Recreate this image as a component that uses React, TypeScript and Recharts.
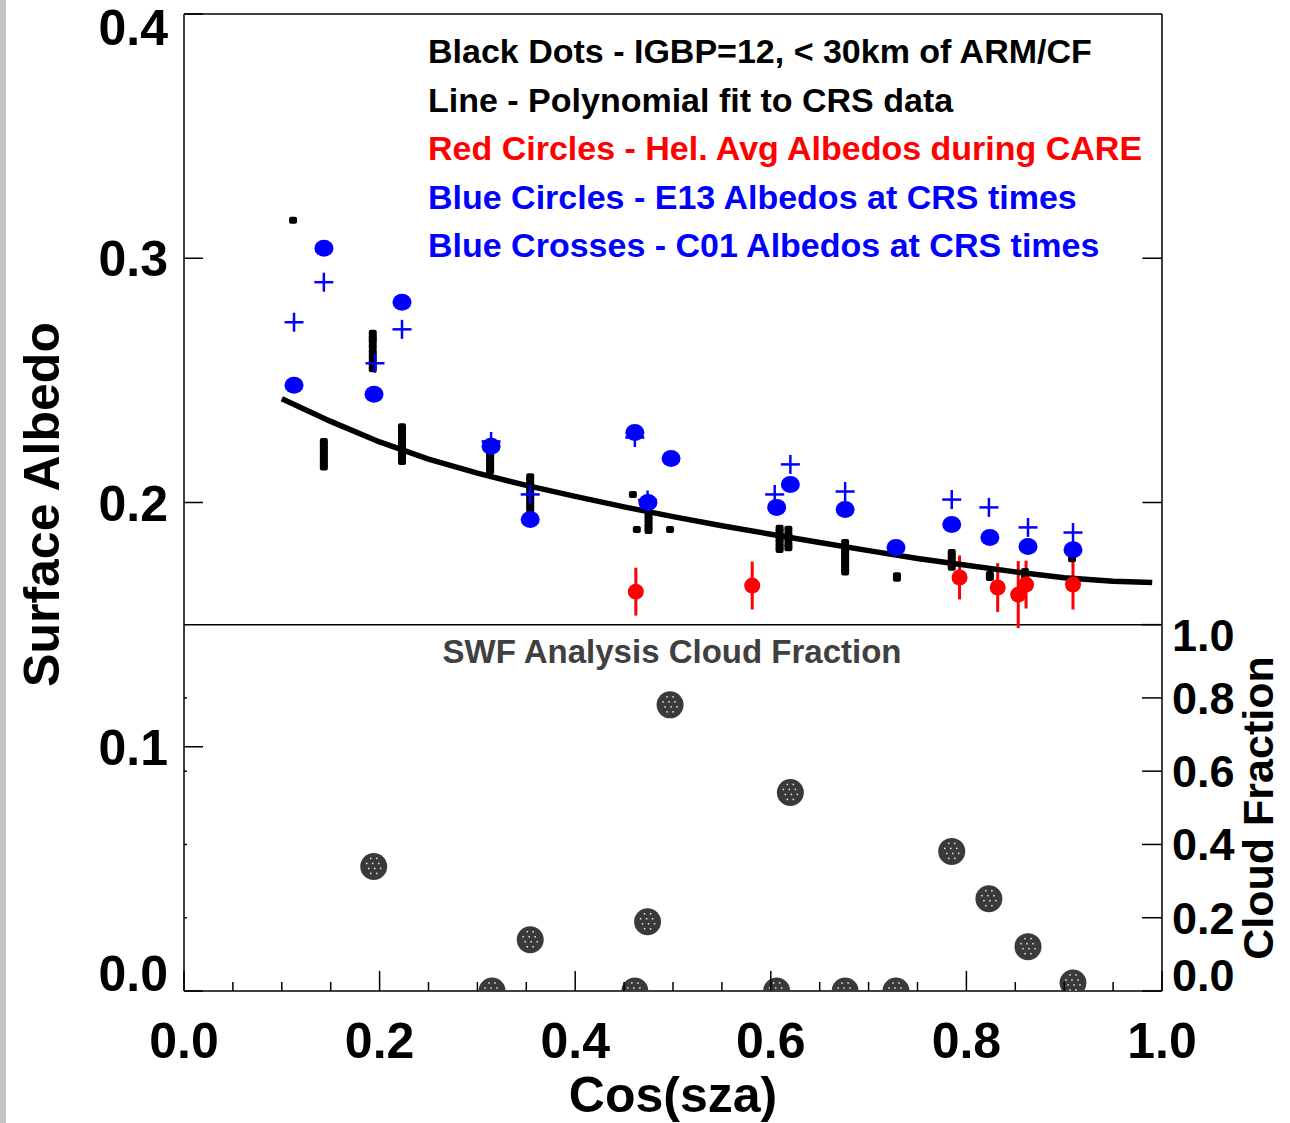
import React from 'react';
import { ComposedChart, Scatter, XAxis, YAxis, ReferenceLine, ErrorBar, Customized } from 'recharts';

const FONT = "'Liberation Sans', Arial, Helvetica, sans-serif";

// ---- tick values ----
const xTicks = [0, 0.05, 0.1, 0.15, 0.2, 0.25, 0.3, 0.35, 0.4, 0.45, 0.5, 0.55, 0.6, 0.65, 0.7, 0.75, 0.8, 0.85, 0.9, 0.95, 1.0];
const xMajorTicks = [0, 0.2, 0.4, 0.6, 0.8, 1.0];
const albedoTicks = [0, 0.1, 0.2, 0.3, 0.4];
const albedoRightTicks = [0.2, 0.3];
const cloudTicks = [0, 0.2, 0.4, 0.6, 0.8, 1.0];
const cloudInnerTicks = [0.2, 0.4, 0.6, 0.8];
const ALBEDO_MAX = 0.4;
const PANEL_SPLIT = 0.15; // albedo value where the cloud-fraction panel (0..1) ends
const CLOUD_AXIS_MAX = ALBEDO_MAX / PANEL_SPLIT;

// ---- annotation texts ----
const legendLines = [
  { text: 'Black Dots - IGBP=12, < 30km of ARM/CF', color: '#000000' },
  { text: 'Line - Polynomial fit to CRS data', color: '#000000' },
  { text: 'Red Circles - Hel. Avg Albedos during CARE', color: '#ff0000' },
  { text: 'Blue Circles - E13 Albedos at CRS times', color: '#0000ff' },
  { text: 'Blue Crosses - C01 Albedos at CRS times', color: '#0000ff' },
];
const cloudTitle = 'SWF Analysis Cloud Fraction';

// ---- data ----
const blackDots = [
  { x: 0.1115, y: 0.3156 },
  { x: 0.143, y: 0.2250 }, { x: 0.143, y: 0.2235 }, { x: 0.143, y: 0.2220 }, { x: 0.143, y: 0.2205 },
  { x: 0.143, y: 0.2190 }, { x: 0.143, y: 0.2175 }, { x: 0.143, y: 0.2160 }, { x: 0.143, y: 0.2145 },
  { x: 0.193, y: 0.2693 }, { x: 0.193, y: 0.2675 }, { x: 0.193, y: 0.2660 }, { x: 0.193, y: 0.2640 },
  { x: 0.193, y: 0.2618 }, { x: 0.193, y: 0.2600 }, { x: 0.193, y: 0.2582 }, { x: 0.193, y: 0.2565 }, { x: 0.193, y: 0.2548 },
  { x: 0.2229, y: 0.2310 }, { x: 0.2229, y: 0.2295 }, { x: 0.2229, y: 0.2280 }, { x: 0.2229, y: 0.2262 },
  { x: 0.2229, y: 0.2245 }, { x: 0.2229, y: 0.2230 }, { x: 0.2229, y: 0.2212 }, { x: 0.2229, y: 0.2195 },
  { x: 0.2229, y: 0.2180 }, { x: 0.2229, y: 0.2168 },
  { x: 0.313, y: 0.2205 }, { x: 0.313, y: 0.2190 }, { x: 0.313, y: 0.2175 }, { x: 0.313, y: 0.2160 },
  { x: 0.313, y: 0.2145 }, { x: 0.313, y: 0.2130 },
  { x: 0.354, y: 0.2105 }, { x: 0.354, y: 0.2090 }, { x: 0.354, y: 0.2075 }, { x: 0.354, y: 0.2060 },
  { x: 0.354, y: 0.2045 }, { x: 0.354, y: 0.2030 }, { x: 0.354, y: 0.2015 }, { x: 0.354, y: 0.2000 },
  { x: 0.354, y: 0.1985 }, { x: 0.354, y: 0.1972 },
  { x: 0.459, y: 0.2033 }, { x: 0.463, y: 0.1889 },
  { x: 0.475, y: 0.1945 }, { x: 0.475, y: 0.1930 }, { x: 0.475, y: 0.1915 }, { x: 0.475, y: 0.1900 }, { x: 0.475, y: 0.1885 },
  { x: 0.497, y: 0.1889 },
  { x: 0.609, y: 0.1895 }, { x: 0.609, y: 0.1880 }, { x: 0.609, y: 0.1865 }, { x: 0.609, y: 0.1850 },
  { x: 0.609, y: 0.1835 }, { x: 0.609, y: 0.1820 }, { x: 0.609, y: 0.1808 },
  { x: 0.618, y: 0.1890 }, { x: 0.618, y: 0.1870 }, { x: 0.618, y: 0.1850 }, { x: 0.618, y: 0.1830 }, { x: 0.618, y: 0.1815 },
  { x: 0.676, y: 0.1836 }, { x: 0.676, y: 0.1820 }, { x: 0.676, y: 0.1805 }, { x: 0.676, y: 0.1790 },
  { x: 0.676, y: 0.1775 }, { x: 0.676, y: 0.1760 }, { x: 0.676, y: 0.1745 }, { x: 0.676, y: 0.1730 }, { x: 0.676, y: 0.1715 },
  { x: 0.729, y: 0.1700 }, { x: 0.729, y: 0.1690 },
  { x: 0.785, y: 0.1795 }, { x: 0.785, y: 0.1780 }, { x: 0.785, y: 0.1765 }, { x: 0.785, y: 0.1750 }, { x: 0.785, y: 0.1735 },
  { x: 0.824, y: 0.1705 }, { x: 0.824, y: 0.1693 },
  { x: 0.860, y: 0.1717 }, { x: 0.860, y: 0.1700 },
  { x: 0.908, y: 0.1780 }, { x: 0.908, y: 0.1770 },
];

const polyFit = [
  { x: 0.10, y: 0.2425 }, { x: 0.15, y: 0.2332 }, { x: 0.20, y: 0.2248 }, { x: 0.25, y: 0.2178 },
  { x: 0.30, y: 0.2120 }, { x: 0.35, y: 0.2070 }, { x: 0.40, y: 0.2025 }, { x: 0.45, y: 0.1982 },
  { x: 0.50, y: 0.1942 }, { x: 0.55, y: 0.1905 }, { x: 0.60, y: 0.1870 }, { x: 0.65, y: 0.1836 },
  { x: 0.70, y: 0.1803 }, { x: 0.75, y: 0.1771 }, { x: 0.80, y: 0.1743 }, { x: 0.85, y: 0.1716 },
  { x: 0.90, y: 0.1692 }, { x: 0.95, y: 0.1678 }, { x: 0.99, y: 0.1672 },
];

const blueCircles = [
  { x: 0.1125, y: 0.2480 }, { x: 0.1431, y: 0.3041 }, { x: 0.1943, y: 0.2443 }, { x: 0.2229, y: 0.2820 },
  { x: 0.314, y: 0.2230 }, { x: 0.354, y: 0.1930 }, { x: 0.461, y: 0.2287 }, { x: 0.4744, y: 0.2000 },
  { x: 0.498, y: 0.2180 }, { x: 0.606, y: 0.1980 }, { x: 0.620, y: 0.2074 }, { x: 0.676, y: 0.1971 },
  { x: 0.728, y: 0.1816 }, { x: 0.785, y: 0.1910 }, { x: 0.824, y: 0.1857 }, { x: 0.863, y: 0.1820 },
  { x: 0.909, y: 0.1807 },
];

const blueCrosses = [
  { x: 0.1125, y: 0.2738 }, { x: 0.143, y: 0.2902 }, { x: 0.1953, y: 0.2570 }, { x: 0.2229, y: 0.2709 },
  { x: 0.314, y: 0.2250 }, { x: 0.354, y: 0.2033 }, { x: 0.461, y: 0.2266 }, { x: 0.474, y: 0.2010 },
  { x: 0.604, y: 0.2033 }, { x: 0.620, y: 0.2156 }, { x: 0.676, y: 0.2045 }, { x: 0.785, y: 0.2012 },
  { x: 0.823, y: 0.1980 }, { x: 0.863, y: 0.1898 }, { x: 0.909, y: 0.1877 },
];

const redCircles = [
  { x: 0.462, y: 0.1635, err: 0.0098 },
  { x: 0.581, y: 0.1660, err: 0.0098 },
  { x: 0.793, y: 0.1693, err: 0.0090 },
  { x: 0.832, y: 0.1652, err: 0.0100 },
  { x: 0.853, y: 0.1623, err: 0.0137 },
  { x: 0.861, y: 0.1664, err: 0.0098 },
  { x: 0.909, y: 0.1664, err: 0.0102 },
];

const cloudFraction = [
  { x: 0.194, y: 0.340 }, { x: 0.315, y: 0.0 }, { x: 0.354, y: 0.140 }, { x: 0.461, y: 0.0 },
  { x: 0.474, y: 0.189 }, { x: 0.497, y: 0.781 }, { x: 0.606, y: 0.0 }, { x: 0.620, y: 0.542 },
  { x: 0.676, y: 0.0 }, { x: 0.728, y: 0.0 }, { x: 0.785, y: 0.381 }, { x: 0.823, y: 0.252 },
  { x: 0.863, y: 0.121 }, { x: 0.909, y: 0.022 },
];

// ---- shapes ----
const BlackDot = (p: any) => <rect x={p.cx - 4} y={p.cy - 3.5} width={8} height={7} rx={2} fill="#000" />;
const BlueCircle = (p: any) => <ellipse cx={p.cx} cy={p.cy} rx={9.5} ry={8.5} fill="#0000ff" />;
const BlueCross = (p: any) => (
  <g stroke="#0000ff" strokeWidth={2.5}>
    <line x1={p.cx - 9.5} y1={p.cy} x2={p.cx + 9.5} y2={p.cy} />
    <line x1={p.cx} y1={p.cy - 9.5} x2={p.cx} y2={p.cy + 9.5} />
  </g>
);
const RedCircle = (p: any) => <circle cx={p.cx} cy={p.cy} r={8} fill="#ff0000" />;
const dotPattern = [
  [-3, -8], [3, -8],
  [-7, -3], [-1, -3], [5, -3],
  [-5, 2], [1, 2], [7, 2],
  [-3, 7], [3, 7],
];
const CloudDot = (p: any) => (
  <g>
    <circle cx={p.cx} cy={p.cy} r={13.5} fill="#3a3a3a" />
    {dotPattern.map(([dx, dy], i) => (
      <rect key={i} x={p.cx + dx - 0.75} y={p.cy + dy - 0.75} width={1.5} height={1.5} fill="#e8e8e8" />
    ))}
  </g>
);
const NoShape = () => <g />;

// ---- ticks ----
const fmt = (v: number) => v.toFixed(1);

const BottomTick = (p: any) => {
  const v = p.payload.value;
  const major = xMajorTicks.some((m) => Math.abs(m - v) < 1e-9);
  return (
    <g>
      <line x1={p.x} y1={p.y} x2={p.x} y2={p.y - (major ? 20 : 9)} stroke="#000" strokeWidth={1.5} />
      {major && (
        <text x={p.x} y={p.y + 67} textAnchor="middle" fontSize={50} fontWeight="bold" fontFamily={FONT} fill="#000">
          {fmt(v)}
        </text>
      )}
    </g>
  );
};

const TopTick = (p: any) => {
  const v = p.payload.value;
  const major = xMajorTicks.some((m) => Math.abs(m - v) < 1e-9);
  return <line x1={p.x} y1={p.y} x2={p.x} y2={p.y + (major ? 20 : 9)} stroke="#000" strokeWidth={1.5} />;
};

const LeftTick = (p: any) => {
  const v = p.payload.value;
  const shift = v >= ALBEDO_MAX - 1e-9 ? 31 : v <= 1e-9 ? 0 : 18;
  return (
    <g>
      <line x1={p.x} y1={p.y} x2={p.x + 19} y2={p.y} stroke="#000" strokeWidth={1.5} />
      <text x={p.x - 16} y={p.y + shift} textAnchor="end" fontSize={50} fontWeight="bold" fontFamily={FONT} fill="#000">
        {fmt(v)}
      </text>
    </g>
  );
};

const RightTick = (p: any) => {
  const v = p.payload.value;
  const shift = v >= 1 - 1e-9 ? 26 : v <= 1e-9 ? 0 : 16;
  return (
    <g>
      <line x1={p.x} y1={p.y} x2={p.x - 20} y2={p.y} stroke="#000" strokeWidth={1.5} />
      <text x={p.x + 10} y={p.y + shift} textAnchor="start" fontSize={45} fontWeight="bold" fontFamily={FONT} fill="#000">
        {fmt(v)}
      </text>
    </g>
  );
};

const LeftLabel = (p: any) => {
  const vb = p.viewBox;
  const cx = vb.x + 42;
  const cy = vb.y + vb.height / 2 + 2;
  return (
    <text x={cx} y={cy} transform={`rotate(-90 ${cx} ${cy})`} textAnchor="middle" dominantBaseline="central"
      fontSize={50} fontWeight="bold" fontFamily={FONT} fill="#000">Surface Albedo</text>
  );
};

const RightLabel = (p: any) => {
  const vb = p.viewBox;
  const cx = vb.x + 96;
  const cy = 808;
  return (
    <text x={cx} y={cy} transform={`rotate(-90 ${cx} ${cy})`} textAnchor="middle" dominantBaseline="central"
      fontSize={43} fontWeight="bold" fontFamily={FONT} fill="#000">Cloud Fraction</text>
  );
};

const Annotations = () => (
  <g fontFamily={FONT} fontWeight="bold">
    {legendLines.map((l, i) => (
      <text key={i} x={428} y={63 + i * 48.5} fontSize={34} fill={l.color}>{l.text}</text>
    ))}
    <text x={672} y={663} textAnchor="middle" fontSize={33} fill="#404040">{cloudTitle}</text>
  </g>
);

export default function App() {
  return (
    <div style={{ position: 'absolute', left: 0, top: 0, width: 1290, height: 1123, background: '#fff' }}>
      <div style={{ position: 'absolute', left: 0, top: 0, width: 6, height: 1123, background: '#c4c4c4' }} />
      <ComposedChart width={1290} height={1123} margin={{ top: 0, right: 0, bottom: 0, left: 0 }}>
        <XAxis xAxisId="b" dataKey="x" type="number" domain={[0, 1]} ticks={xTicks} interval={0}
          height={132} tickSize={0} tickMargin={0} tickLine={false} tick={<BottomTick />}
          axisLine={{ stroke: '#000', strokeWidth: 1.5 }}
          label={{ value: 'Cos(sza)', position: 'insideBottom', offset: 11, fontSize: 50, fontWeight: 'bold', fontFamily: FONT, fill: '#000' }} />
        <XAxis xAxisId="t" orientation="top" dataKey="x" type="number" domain={[0, 1]} ticks={xTicks} interval={0}
          height={14} tickSize={0} tickMargin={0} tickLine={false} tick={<TopTick />}
          axisLine={{ stroke: '#000', strokeWidth: 1.5 }} />
        <YAxis yAxisId="alb" dataKey="y" type="number" domain={[0, ALBEDO_MAX]} ticks={albedoTicks} interval={0}
          width={184} tickSize={0} tickMargin={0} tickLine={false} tick={<LeftTick />}
          axisLine={{ stroke: '#000', strokeWidth: 1.5 }} label={<LeftLabel />} />
        <YAxis yAxisId="cf" orientation="right" dataKey="y" type="number" domain={[0, CLOUD_AXIS_MAX]} allowDataOverflow
          ticks={cloudTicks} interval={0}
          width={128} tickSize={0} tickMargin={0} tickLine={false} tick={<RightTick />}
          axisLine={{ stroke: '#000', strokeWidth: 1.5 }} label={<RightLabel />} />

        <ReferenceLine xAxisId="b" yAxisId="alb" y={PANEL_SPLIT} stroke="#000" strokeWidth={1.5} />
        {albedoRightTicks.map((v) => (
          <ReferenceLine key={'ra' + v} xAxisId="b" yAxisId="alb" segment={[{ x: 0.98, y: v }, { x: 1, y: v }]} stroke="#000" strokeWidth={1.5} />
        ))}
        {cloudInnerTicks.map((v) => (
          <ReferenceLine key={'lc' + v} xAxisId="b" yAxisId="cf" segment={[{ x: 0, y: v }, { x: 0.003, y: v }]} stroke="#000" strokeWidth={1.5} />
        ))}

        <Scatter name="cloud" data={cloudFraction} xAxisId="b" yAxisId="cf" shape={<CloudDot />} isAnimationActive={false} />
        <Scatter name="fit" data={polyFit} xAxisId="b" yAxisId="alb" shape={<NoShape />}
          line={{ stroke: '#000', strokeWidth: 5.5 }} lineType="joint" isAnimationActive={false} />
        <Scatter name="black" data={blackDots} xAxisId="b" yAxisId="alb" shape={<BlackDot />} isAnimationActive={false} />
        <Scatter name="e13" data={blueCircles} xAxisId="b" yAxisId="alb" shape={<BlueCircle />} isAnimationActive={false} />
        <Scatter name="c01" data={blueCrosses} xAxisId="b" yAxisId="alb" shape={<BlueCross />} isAnimationActive={false} />
        <Scatter name="red" data={redCircles} xAxisId="b" yAxisId="alb" shape={<RedCircle />} isAnimationActive={false}>
          <ErrorBar dataKey="err" direction="y" width={0} stroke="#ff0000" strokeWidth={3} />
        </Scatter>
        <Customized component={<Annotations />} />
      </ComposedChart>
    </div>
  );
}
